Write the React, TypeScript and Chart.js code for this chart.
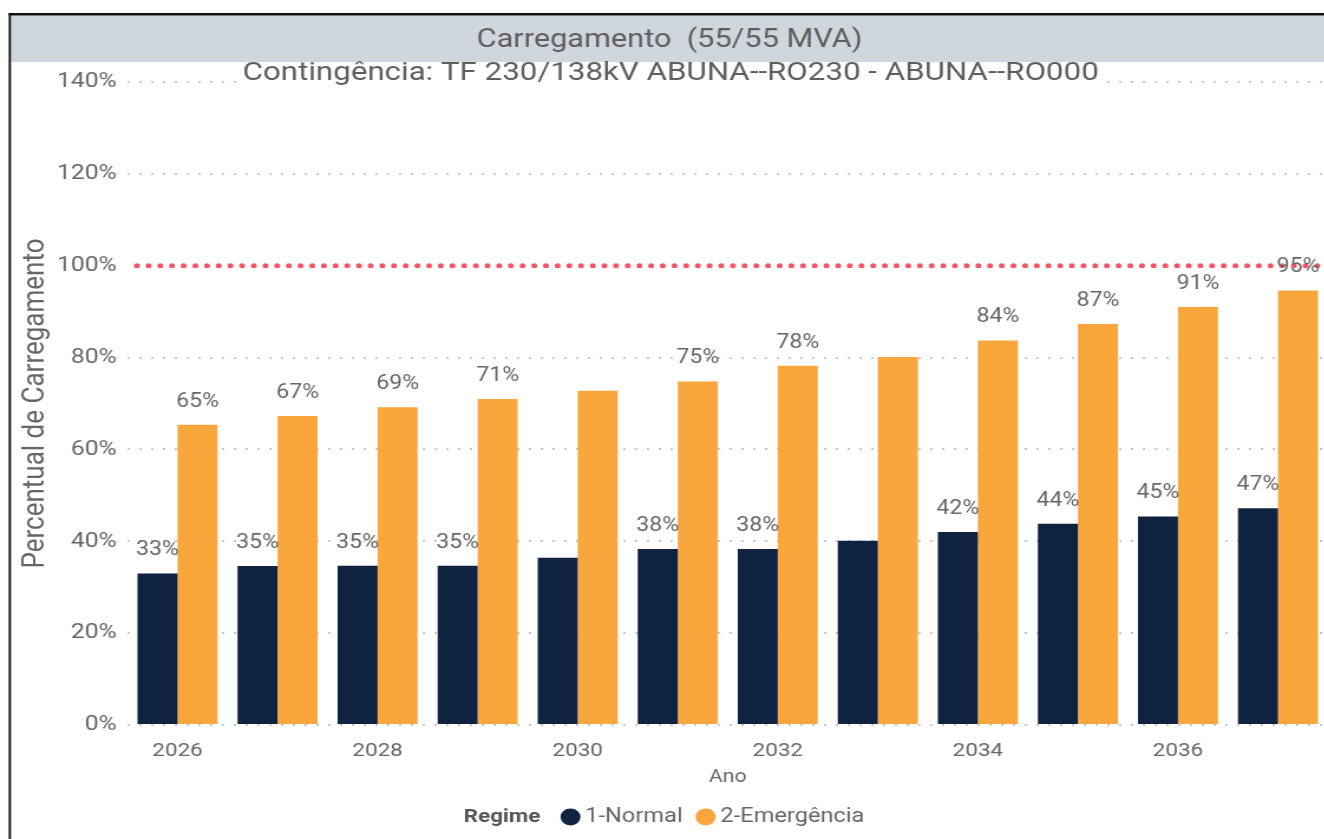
import React, { useEffect, useRef } from "react";
import { Chart, registerables } from "chart.js";

Chart.register(...registerables);

// ---- data ----
const years = ["2026", "2027", "2028", "2029", "2030", "2031", "2032", "2033", "2034", "2035", "2036", "2037"];
const normalValues = [33, 34.6, 34.7, 34.7, 36.4, 38.3, 38.3, 40.1, 42, 43.8, 45.4, 47.2];
const emergencyValues = [65.4, 67.3, 69.2, 71, 72.8, 74.8, 78.2, 80.1, 83.7, 87.3, 91, 94.6];
const labelShown = [true, true, true, true, false, true, true, false, true, true, true, true];
const seriesNames = ["1-Normal", "2-Emergência"];
const seriesColors = ["#0F2341", "#F9A63D"];
const yMin = 0;
const yMax = 140;
const yStep = 20;
const limitValue = 100;
const titleText = "Carregamento  (55/55 MVA)";
const subtitleText = "Contingência: TF 230/138kV ABUNA--RO230 - ABUNA--RO000";
const legendTitle = "Regime";
const xTitle = "Ano";
const yTitle = "Percentual de Carregamento";

// ---- geometry (internal canvas units; displayed stretched horizontally) ----
const S = 1.18;
const W = 1125;
const H = 839;
const FONT = "Roboto";
const TEXT = "#666666";

const decorPlugin = {
  id: "decor",
  beforeDraw(chart: any) {
    const ctx = chart.ctx;
    ctx.save();
    ctx.fillStyle = "#ffffff";
    ctx.fillRect(0, 0, W, H);
    ctx.fillStyle = "#CFD6DE";
    ctx.fillRect(9.3, 15.5, W, 46.5);
    ctx.fillStyle = "#111111";
    ctx.fillRect(7.4, 13, W, 2.5);
    ctx.fillRect(7.4, 13, 1.9, H);
    ctx.restore();
  },
  afterDatasetsDraw(chart: any) {
    const { ctx, chartArea, scales } = chart;
    const py = scales.y.getPixelForValue(limitValue);
    ctx.save();
    ctx.strokeStyle = "#F25468";
    ctx.lineWidth = 5;
    ctx.lineCap = "round";
    ctx.setLineDash([0, 9.9]);
    ctx.beginPath();
    ctx.moveTo(chartArea.left + 8, py);
    ctx.lineTo(chartArea.right + 5, py);
    ctx.stroke();
    ctx.restore();

    ctx.save();
    ctx.font = `19.5px ${FONT}`;
    ctx.fillStyle = TEXT;
    ctx.textAlign = "center";
    ctx.textBaseline = "middle";
    chart.data.datasets.forEach((ds: any, di: number) => {
      const meta = chart.getDatasetMeta(di);
      meta.data.forEach((bar: any, i: number) => {
        if (!labelShown[i]) return;
        ctx.fillText(`${Math.round(ds.data[i])}%`, bar.x, bar.y - 23);
      });
    });
    ctx.restore();
  },
  afterDraw(chart: any) {
    const ctx = chart.ctx;
    const cx = (9.3 + W) / 2;
    ctx.save();
    ctx.textAlign = "center";
    ctx.textBaseline = "middle";
    ctx.fillStyle = "#605E5C";
    ctx.font = `26px ${FONT}`;
    ctx.fillText(titleText, cx, 40);
    ctx.font = `26.5px ${FONT}`;
    const sw = ctx.measureText(subtitleText).width;
    ctx.fillStyle = "#ffffff";
    ctx.fillRect(cx - sw / 2 - 3, 62, sw + 6, 25);
    ctx.fillStyle = "#605E5C";
    ctx.fillText(subtitleText, cx + 1, 73);

    // legend
    const ly = 817;
    const r = 8.5;
    ctx.textAlign = "left";
    ctx.font = `bold 19px ${FONT}`;
    const w0 = ctx.measureText(legendTitle).width;
    ctx.font = `20px ${FONT}`;
    const w1 = ctx.measureText(seriesNames[0]).width;
    const w2 = ctx.measureText(seriesNames[1]).width;
    const total = w0 + 17 + 2 * r + 4 + w1 + 11 + 2 * r + 4 + w2;
    let x = W / 2 - total / 2;
    ctx.font = `bold 19px ${FONT}`;
    ctx.fillStyle = "#555555";
    ctx.fillText(legendTitle, x, ly);
    x += w0 + 17;
    ctx.font = `20px ${FONT}`;
    [w1, w2].forEach((w, i) => {
      ctx.fillStyle = seriesColors[i];
      ctx.beginPath();
      ctx.arc(x + r, ly, r, 0, Math.PI * 2);
      ctx.fill();
      x += 2 * r + 4;
      ctx.fillStyle = TEXT;
      ctx.fillText(seriesNames[i], x, ly);
      x += w + 11;
    });
    ctx.restore();
  },
};

export default function App() {
  const ref = useRef<HTMLCanvasElement | null>(null);

  useEffect(() => {
    if (!ref.current) return;
    const chart = new Chart(ref.current, {
      type: "bar",
      data: {
        labels: years,
        datasets: [
          { label: seriesNames[0], data: normalValues, backgroundColor: seriesColors[0], categoryPercentage: 0.8, barPercentage: 1.0 },
          { label: seriesNames[1], data: emergencyValues, backgroundColor: seriesColors[1], categoryPercentage: 0.8, barPercentage: 1.0 },
        ],
      },
      options: {
        responsive: false,
        animation: false,
        devicePixelRatio: 1,
        layout: { padding: { top: 82, left: 0, right: 0, bottom: 0 } },
        plugins: { legend: { display: false }, title: { display: false }, tooltip: { enabled: false } },
        scales: {
          x: {
            grid: { display: false },
            border: { display: false },
            ticks: {
              autoSkip: false,
              maxRotation: 0,
              padding: 7,
              color: TEXT,
              font: { family: FONT, size: 19 },
              callback: (_v: any, i: number) => (i % 2 === 0 ? years[i] : ""),
            },
            title: { display: true, text: xTitle, color: TEXT, font: { family: FONT, size: 18 }, padding: { top: 0, bottom: 51 } },
            afterFit: (s: any) => { s.height = H - 725; },
          },
          y: {
            min: yMin,
            max: yMax,
            grid: {
              drawTicks: false,
              lineWidth: 2,
              color: (c: any) => (c.tick && c.tick.value === limitValue ? "rgba(0,0,0,0)" : "#C8C8C8"),
            },
            border: { display: false, dash: [2, 8] },
            ticks: {
              stepSize: yStep,
              padding: 9,
              color: TEXT,
              font: { family: FONT, size: 21 },
              callback: (v: any) => `${v}%`,
            },
            title: { display: true, text: yTitle, color: TEXT, font: { family: FONT, size: 26 }, padding: { top: 15, bottom: 0 } },
            afterFit: (s: any) => { s.width = 108; },
          },
        },
      },
      plugins: [decorPlugin],
    } as any);
    return () => chart.destroy();
  }, []);

  return (
    <div style={{ position: "fixed", left: 0, top: 0, width: 1324, height: 839, overflow: "hidden", background: "#fff" }}>
      <canvas ref={ref} width={W} height={H} style={{ width: `${W * S}px`, height: `${H}px`, display: "block" }} />
    </div>
  );
}
